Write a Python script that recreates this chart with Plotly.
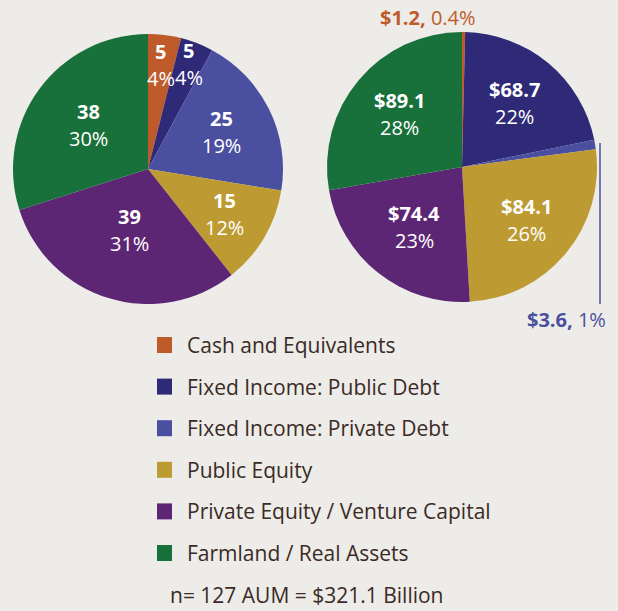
import math
import plotly.graph_objects as go

W, H = 618, 611
BG = "#EDECE8"
TXT = "#3B2A25"
FONT = "Open Sans"

categories = ["Cash and Equivalents", "Fixed Income: Public Debt", "Fixed Income: Private Debt",
              "Public Equity", "Private Equity / Venture Capital", "Farmland / Real Assets"]
colors = ["#BF5B2A", "#2E2A78", "#4B4FA0", "#BD9B32", "#5D2675", "#18703A"]

# left pie: number of respondents
count_values = [5, 5, 25, 15, 39, 38]
count_labels = ["5", "5", "25", "15", "39", "38"]
count_pcts = ["4%", "4%", "19%", "12%", "31%", "30%"]

# right pie: AUM ($ billion)
aum_values = [1.2, 68.7, 3.6, 84.1, 74.4, 89.1]
aum_labels = ["$1.2", "$68.7", "$3.6", "$84.1", "$74.4", "$89.1"]
aum_pcts = ["0.4%", "22%", "1%", "26%", "23%", "28%"]

footnote = "n= 127 AUM = $321.1 Billion"

# pie geometry in pixels (cx, cy, r)
left_geo = (148, 169, 135)
right_geo = (462, 167, 135)
left_frac = [0.77, 0.83, 0.61, 0.66, 0.48, 0.55]
right_frac = [0, 0.61, 0, 0.62, 0.57, 0.6]
right_outside = [True, False, True, False, False, False]


def dom(geo):
    cx, cy, r = geo
    return dict(x=[(cx - r) / W, (cx + r) / W], y=[1 - (cy + r) / H, 1 - (cy - r) / H])


def px(x, y):
    return x / W, 1 - y / H


fig = go.Figure()
fig.add_trace(go.Pie(values=count_values, labels=categories, marker=dict(colors=colors),
                     sort=False, direction="clockwise", rotation=0, textinfo="none",
                     domain=dom(left_geo), showlegend=False))
fig.add_trace(go.Pie(values=aum_values, labels=categories, marker=dict(colors=colors),
                     sort=False, direction="clockwise", rotation=0, textinfo="none",
                     domain=dom(right_geo), showlegend=False))

ann = []


def text_at(x, y, text, size, color, xanchor="center", yanchor="middle", yshift=0):
    ax, ay = px(x, y)
    ann.append(dict(x=ax, y=ay, xref="paper", yref="paper", text=text, showarrow=False,
                    xanchor=xanchor, yanchor=yanchor, yshift=yshift,
                    font=dict(family=FONT, size=size, color=color)))


def slice_labels(values, labels, pcts, fracs, geo, skip=None):
    cx, cy, r = geo
    total = sum(values)
    cum = 0
    for i, v in enumerate(values):
        mid = (cum + v / 2) / total * 2 * math.pi
        cum += v
        if skip and skip[i]:
            continue
        x = cx + r * fracs[i] * math.sin(mid)
        y = cy - r * fracs[i] * math.cos(mid)
        text_at(x, y, "<b>" + labels[i] + "</b>", 20, "white", yshift=14)
        text_at(x, y, pcts[i], 20, "white", yshift=-13)


slice_labels(count_values, count_labels, count_pcts, left_frac, left_geo)
slice_labels(aum_values, aum_labels, aum_pcts, right_frac, right_geo, right_outside)

# callouts for the tiny slices
text_at(428, 18, "<b>" + aum_labels[0] + ",</b> " + aum_pcts[0], 20, colors[0])
text_at(566, 319, "<b>" + aum_labels[2] + ",</b> " + aum_pcts[2], 20, colors[2])
shapes = [dict(type="line", xref="paper", yref="paper", x0=600 / W, x1=600 / W,
               y0=1 - 143 / H, y1=1 - 304 / H, line=dict(color=colors[2], width=1.5))]

# legend
for i, (c, col) in enumerate(zip(categories, colors)):
    yc = 345 + i * 41.6
    shapes.append(dict(type="rect", xref="paper", yref="paper", x0=157 / W, x1=172 / W,
                       y0=1 - (yc + 8) / H, y1=1 - (yc - 8) / H, fillcolor=col, line=dict(width=0)))
    text_at(185, yc, c, 21, TXT, xanchor="left")

text_at(168, 611, footnote, 21, TXT, xanchor="left", yanchor="bottom")

fig.update_layout(width=W, height=H, margin=dict(l=0, r=0, t=0, b=0),
                  paper_bgcolor=BG, plot_bgcolor=BG, annotations=ann, shapes=shapes)
fig.write_html("out.html", config=dict(displayModeBar=False),
               post_script="document.body.style.margin='0';")
